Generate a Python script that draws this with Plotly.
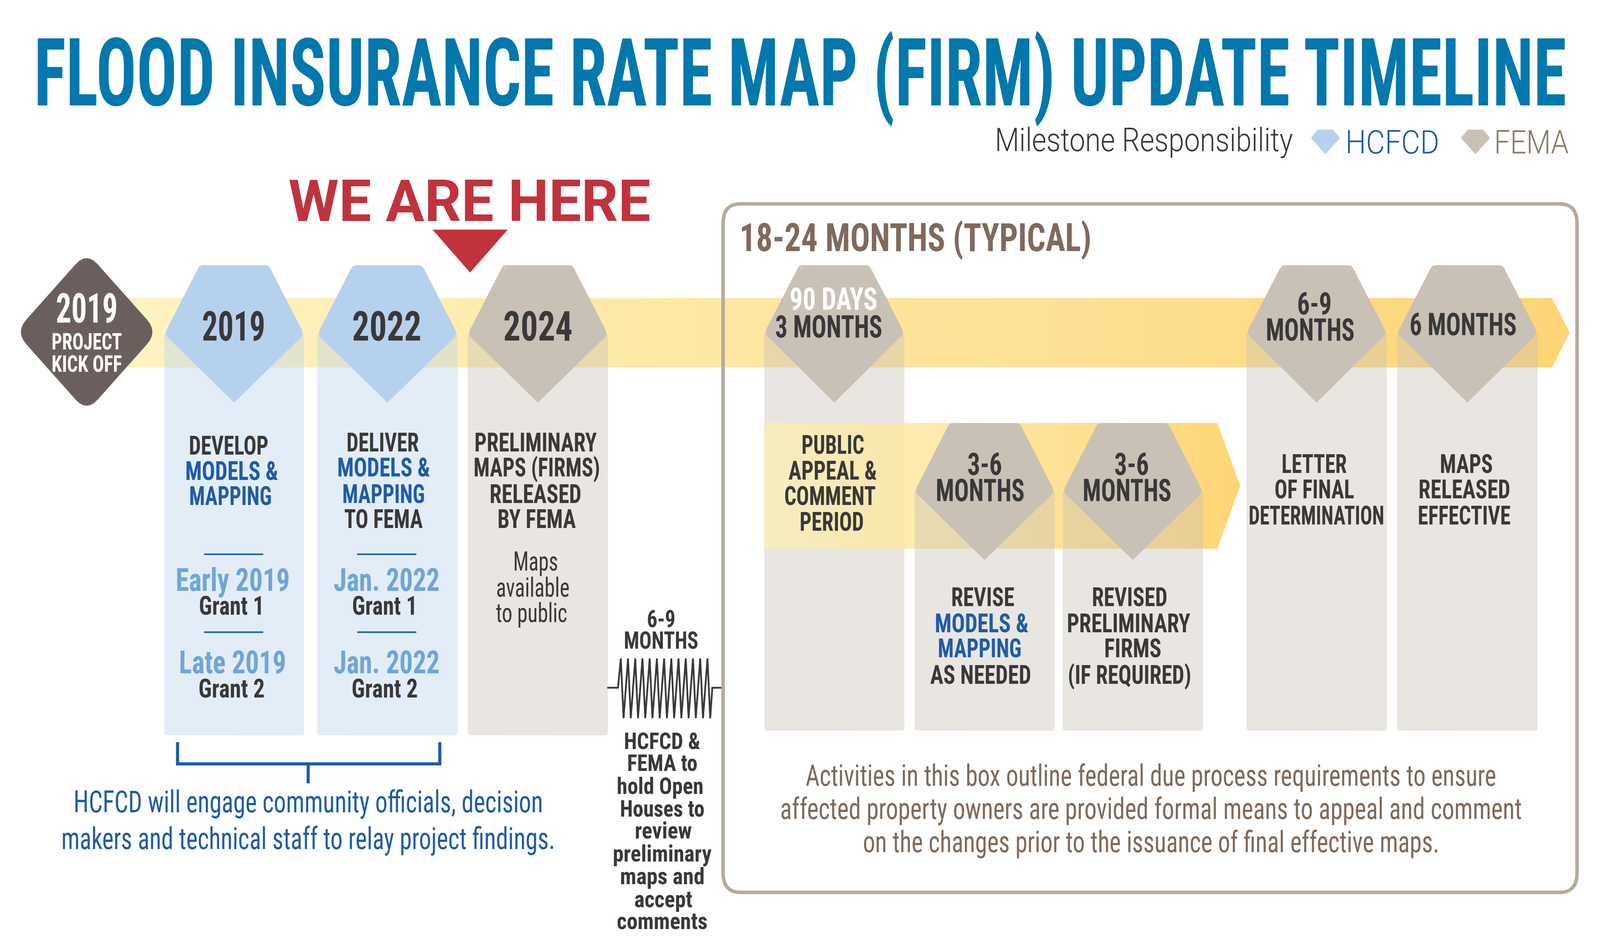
import json
import plotly.graph_objects as go

# ---------- chart content ----------
TITLE = "FLOOD INSURANCE RATE MAP (FIRM) UPDATE TIMELINE"
LEGEND_TITLE = "Milestone Responsibility"
LEGEND_ITEMS = ["HCFCD", "FEMA"]
HERE_LABEL = "WE ARE HERE"
KICKOFF_LINES = ["2019", "PROJECT", "KICK OFF"]
MILESTONE_YEARS = ["2019", "2022", "2024"]
DEVELOP_LINES = ["DEVELOP", "MODELS &", "MAPPING"]
DELIVER_LINES = ["DELIVER", "MODELS &", "MAPPING", "TO FEMA"]
PRELIM_LINES = ["PRELIMINARY", "MAPS (FIRMS)", "RELEASED", "BY FEMA"]
PUBLIC_NOTE = ["Maps", "available", "to public"]
GRANT_DATES_1 = ["Early 2019", "Late 2019"]
GRANT_DATES_2 = ["Jan. 2022", "Jan. 2022"]
GRANT_NAMES = ["Grant 1", "Grant 2"]
ENGAGE_LINES = ["HCFCD will engage community officials, decision",
                "makers and technical staff to relay project findings."]
GAP_HEAD = ["6-9", "MONTHS"]
GAP_LINES = ["HCFCD &", "FEMA to", "hold Open", "Houses to", "review",
             "preliminary", "maps and", "accept", "comments"]
BOX_TITLE = "18-24 MONTHS (TYPICAL)"
DUR_90 = ["90 DAYS", "3 MONTHS"]
DUR_69 = ["6-9", "MONTHS"]
DUR_6 = "6 MONTHS"
DUR_36 = ["3-6", "MONTHS"]
APPEAL_LINES = ["PUBLIC", "APPEAL &", "COMMENT", "PERIOD"]
REVISE_LINES = ["REVISE", "MODELS &", "MAPPING", "AS NEEDED"]
REVISED_LINES = ["REVISED", "PRELIMINARY", "FIRMS", "(IF REQUIRED)"]
LETTER_LINES = ["LETTER", "OF FINAL", "DETERMINATION"]
EFFECTIVE_LINES = ["MAPS", "RELEASED", "EFFECTIVE"]
BOX_NOTE = ["Activities in this box outline federal due process requirements to ensure",
            "affected property owners are provided formal means to appeal and comment",
            "on the changes prior to the issuance of final effective maps."]

# ---------- styling ----------
W, H = 4598, 2430      # layout grid of the diagram
PAGE_W = 4096          # widest page the browser window actually shows
S = W / 1568
NARROW = "Roboto Condensed"
PLAIN = "Roboto"
DARK, BLUE, SKY, BROWN = "#3a3839", "#1f5ca8", "#6fa5d8", "#7f6a5c"
TITLE_BLUE, RED, RULE = "#0278ad", "#c0333d", "#b6ab99"
P_BLUE, P_GREY = "#b6d1ee", "#c9c1b6"
C_BLUE, C_GREY = "rgba(182,209,238,0.4)", "rgba(201,193,182,0.4)"

fig = go.Figure()
text_widths = []


def rounded(pts, r):
    out, n = [], len(pts)
    for i in range(n):
        p = pts[i]
        rad = r[i] if isinstance(r, (list, tuple)) else r
        a, b = pts[i - 1], pts[(i + 1) % n]
        if rad == 0:
            out.append(p)
            continue

        def toward(q):
            d = ((q[0] - p[0]) ** 2 + (q[1] - p[1]) ** 2) ** 0.5
            return (p[0] + (q[0] - p[0]) * rad / d, p[1] + (q[1] - p[1]) * rad / d)
        s, e = toward(a), toward(b)
        for k in range(7):
            t = k / 6
            out.append(((1 - t) ** 2 * s[0] + 2 * t * (1 - t) * p[0] + t * t * e[0],
                        (1 - t) ** 2 * s[1] + 2 * t * (1 - t) * p[1] + t * t * e[1]))
    return out


def poly(pts, color=None, gradient=None):
    xs = [p[0] for p in pts] + [pts[0][0]]
    ys = [p[1] for p in pts] + [pts[0][1]]
    kw = dict(fillgradient=gradient) if gradient else dict(fillcolor=color)
    fig.add_trace(go.Scatter(x=xs, y=ys, mode="lines", fill="toself", line=dict(width=0),
                             hoverinfo="skip", showlegend=False, **kw))


def stroke(xs, ys, color, width):
    fig.add_trace(go.Scatter(x=xs, y=ys, mode="lines", hoverinfo="skip", showlegend=False,
                             line=dict(color=color, width=width)))


def label(text, dx, dy, w, size, color=DARK, font=NARROW, bold=True, anchor="center", weight=None):
    """dx, dy, w are on the 1568-wide grid; w is the width the line should span."""
    f = dict(family=font, size=size, color=color)
    if weight:
        f["weight"] = weight
    fig.add_annotation(x=dx * S, y=dy * S + size * 0.011, text=f"<b>{text}</b>" if bold else text,
                       showarrow=False, xanchor=anchor, yanchor="middle", align="center", font=f)
    text_widths.append(round(w * PAGE_W / 1568, 1))


def lines(texts, xs, ys, ws, size, colors=None, **kw):
    for i, t in enumerate(texts):
        label(t, xs[i], ys[i], ws[i], size, colors[i] if colors else DARK, **kw)


def column(x0, x1, top, wide, tip, bottom, head, body, inset):
    cx = (x0 + x1) / 2
    poly(rounded([(x0, wide), (x1, wide), (x1, bottom), (x0, bottom)], [0, 0, 8, 8]), body)
    poly(rounded([(x0 + inset, top), (x1 - inset, top), (x1, wide), (cx, tip), (x0, wide)],
                 [10, 10, 14, 0, 14]), head)


# ---------- bands ----------
poly([(367, 763), (4460, 763), (4511, 852), (4460, 941), (367, 941)],
     gradient=dict(type="horizontal",
                   colorscale=[[0, "#fef3c2"], [0.35, "#fee9a6"], [0.7, "#fddf91"], [1, "#fdd575"]]))

# ---------- columns ----------
LEFT_BOTTOM, RIGHT_BOTTOM = 1883, 1871
column(472, 874, 679, 856, 1031, LEFT_BOTTOM, P_BLUE, C_BLUE, 102)
column(912, 1315, 679, 856, 1031, LEFT_BOTTOM, P_BLUE, C_BLUE, 102)
column(1344, 1747, 679, 856, 1031, LEFT_BOTTOM, P_GREY, C_GREY, 102)
column(2196, 2599, 679, 853, 1031, RIGHT_BOTTOM, P_GREY, C_GREY, 101)

poly([(2196, 1083), (3498, 1083), (3564, 1244), (3498, 1405), (2196, 1405)],
     gradient=dict(type="horizontal",
                   colorscale=[[0, "rgba(255,240,170,0.62)"], [0.5, "rgba(254,224,140,0.85)"],
                               [1, "#fdd575"]]))

column(2628, 3031, 1083, 1259, 1434, RIGHT_BOTTOM, P_GREY, C_GREY, 101)
column(3054, 3457, 1083, 1259, 1434, RIGHT_BOTTOM, P_GREY, C_GREY, 101)
column(3582, 3985, 679, 853, 1031, RIGHT_BOTTOM, P_GREY, C_GREY, 101)
column(4015, 4419, 679, 853, 1031, RIGHT_BOTTOM, P_GREY, C_GREY, 101)

# ---------- kickoff diamond, marker, legend gems ----------
poly(rounded([(249, 645), (454, 850), (249, 1055), (44, 850)], 45), "#6b5f5d")
poly([(1243, 588), (1459, 588), (1351, 698)], RED)
for gx, gc in ((3809, P_BLUE), (4240, P_GREY)):
    poly([(gx - 22, 332), (gx + 22, 332), (gx + 42, 353), (gx, 395), (gx - 42, 353)], gc)

# ---------- box, rules, bracket, zigzag ----------
fig.add_shape(type="path", xref="x", yref="y", line=dict(color=RULE, width=9),
              path="M 2128 522 L 4482 522 Q 4532 522 4532 572 L 4532 2235 Q 4532 2285 4482 2285 "
                   "L 2128 2285 Q 2078 2285 2078 2235 L 2078 572 Q 2078 522 2128 522 Z")
for a, b in ((200, 258), (350, 408)):
    for yy in (484, 552):
        stroke([a * S, b * S], [yy * S, yy * S], BLUE, 4)
stroke([174 * S, 174 * S, 431 * S, 431 * S], [648 * S, 667 * S, 667 * S, 648 * S], BLUE, 8)
stroke([302 * S, 302 * S], [667 * S, 684 * S], BLUE, 8)

zx, zy = [1745, 1776], [1761, 1761]
for i in range(13):
    zx += [1784 + i * 20.75, 1792 + i * 20.75]
    zy += [1686, 1839]
zx += [2047, 2073]
zy += [1761, 1761]
stroke(zx, zy, DARK, 4.5)

# ---------- text ----------
label(TITLE, 784.3, 63, 1502, 242, TITLE_BLUE)
label(LEGEND_TITLE, 1121, 122, 292, 84, DARK, PLAIN, False, weight=300)
label(LEGEND_ITEMS[0], 1364.5, 124, 92, 84, BLUE, PLAIN, False, weight=300)
label(LEGEND_ITEMS[1], 1501, 124, 73, 84, "#8a7a68", PLAIN, False, weight=300)
label(HERE_LABEL, 460, 175, 355, 149, RED, PLAIN)

label(KICKOFF_LINES[0], 85, 269, 60.5, 106, "white")
label(KICKOFF_LINES[1], 85, 298, 69, 59, "white")
label(KICKOFF_LINES[2], 85, 317.5, 69, 59, "white")
lines(MILESTONE_YEARS, (229, 379, 527), (285, 285, 285), (62, 68, 68), 105)

BODY = 67
BB = (DARK, BLUE, BLUE, DARK)
lines(DEVELOP_LINES, (224, 227, 226), (389, 411, 433), (78, 91, 81), BODY, (DARK, BLUE, BLUE))
lines(DELIVER_LINES, (375, 376, 376, 376), (386, 408, 431, 453), (71, 91, 81, 77), BODY, BB)
lines(PRELIM_LINES, (525, 526, 525, 526), (386, 408, 431, 453), (120, 124, 90, 77), BODY)
lines(PUBLIC_NOTE, (525, 522, 521), (490, 513, 535), (44, 72, 70), 68, bold=False)

for dates, dx, ws in ((GRANT_DATES_1, 228, (112, 105)), (GRANT_DATES_2, 379, (104, 104))):
    lines(dates, (dx, dx), (506, 578), ws, 82, (SKY, SKY))
for dx in (227, 377):
    lines(GRANT_NAMES, (dx, dx), (529, 601), (64, 65), 66)

lines(ENGAGE_LINES, (302, 302), (700, 732), (460, 484), 78, (BLUE, BLUE), bold=False)

lines(GAP_HEAD, (648, 648), (540, 559), (28, 73), 62)
lines(GAP_LINES, (649, 649, 647, 649, 650, 649, 649, 650, 649),
      (647, 666, 686, 706, 725, 745, 765, 785, 804),
      (75, 69, 85, 83, 56, 97, 83, 57, 89), 60)

label(BOX_TITLE, 724, 207, 345, 100, BROWN, anchor="left")
label(DUR_90[0], 817, 261, 86, 80, "white")
label(DUR_90[1], 812, 285, 105, 80)
label(DUR_69[0], 1288, 265, 34, 80)
label(DUR_69[1], 1284, 288, 87, 80)
label(DUR_6, 1433.8, 283, 105, 80)
for dx in (965, 1109):
    label(DUR_36[0], dx, 405, 34, 80)
    label(DUR_36[1], dx - 4.5, 428, 87, 80)

lines(APPEAL_LINES, (816, 816, 813.3, 815), (388, 410.7, 433, 455.4), (61.5, 86.6, 89.6, 63), BODY)
lines(REVISE_LINES, (963, 962, 960, 961), (521, 544, 566, 589), (62, 92, 82, 99), BODY, BB)
lines(REVISED_LINES, (1107, 1106, 1110, 1107), (521, 544, 566, 589), (74, 121, 56, 121), BODY)
lines(LETTER_LINES, (1288, 1288, 1290), (405, 427, 450), (64, 78, 133), BODY)
lines(EFFECTIVE_LINES, (1437, 1435, 1435), (405, 427, 450), (52, 90, 91), BODY)
lines(BOX_NOTE, (1128, 1128, 1128), (677, 706, 735), (677, 727, 565), 76, (BROWN,) * 3, bold=False)

fig.update_layout(width=PAGE_W, height=H, margin=dict(l=0, r=0, t=0, b=0), showlegend=False,
                  paper_bgcolor="white", plot_bgcolor="white",
                  xaxis=dict(range=[0, W], visible=False, fixedrange=True),
                  yaxis=dict(range=[H, 0], visible=False, fixedrange=True))

# Fit each text line to its measured width (the source face is far narrower than any installed one).
left_idx = [i for i, a in enumerate(fig.layout.annotations) if a.xanchor == "left"][0]
fit_js = """
document.body.style.margin='0';document.documentElement.style.overflow='hidden';
var WIDTHS=%s, LEFT=%d;
function fitTexts(){
  document.querySelectorAll('.annotation').forEach(function(g){
    var i=+g.getAttribute('data-index'), t=g.querySelector('text');
    if(!t||!WIDTHS[i])return;
    var b=t.getBBox(), k=WIDTHS[i]/b.width, ox=(i===LEFT)?b.x:b.x+b.width/2;
    t.setAttribute('transform','matrix('+k+',0,0,1,'+(ox*(1-k))+',0)');
  });
}
fitTexts();setTimeout(fitTexts,100);setTimeout(fitTexts,600);
""" % (json.dumps(text_widths), left_idx)
fig.write_html("out.html", config={"displayModeBar": False}, post_script=fit_js)
